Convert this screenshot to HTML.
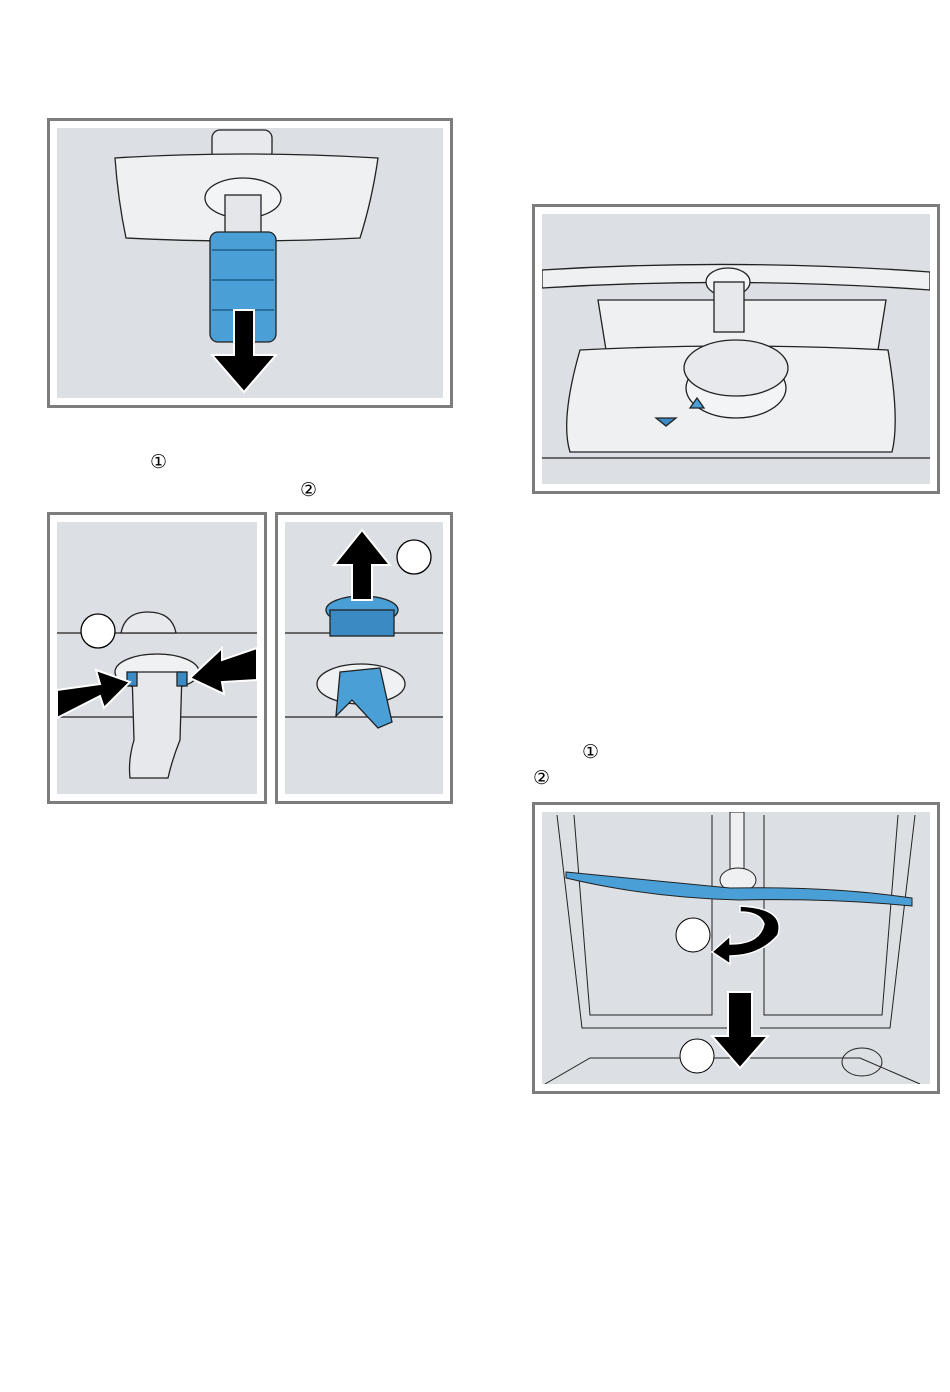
<!DOCTYPE html>
<html><head><meta charset="utf-8"><style>
html,body{margin:0;padding:0;background:#fff;width:950px;height:1392px;overflow:hidden}
svg{display:block}
text{font-family:"Liberation Sans","DejaVu Sans",sans-serif}
</style></head><body>
<svg width="950" height="1392" viewBox="0 0 950 1392" xmlns="http://www.w3.org/2000/svg">
<defs>
<clipPath id="c1"><rect x="57" y="128" width="386" height="270"/></clipPath>
<clipPath id="c2"><rect x="542" y="214" width="388" height="270"/></clipPath>
<clipPath id="c3"><rect x="57" y="522" width="200" height="272"/></clipPath>
<clipPath id="c4"><rect x="285" y="522" width="158" height="272"/></clipPath>
<clipPath id="c5"><rect x="542" y="812" width="388" height="272"/></clipPath>
</defs>
<g fill="#fff" stroke="#7d7d7d" stroke-width="3">
<rect x="48.5" y="119.5" width="403" height="287"/>
<rect x="533.5" y="205.5" width="405" height="287"/>
<rect x="48.5" y="513.5" width="217" height="289"/>
<rect x="276.5" y="513.5" width="175" height="289"/>
<rect x="533.5" y="803.5" width="405" height="289"/>
</g>
<g fill="#dcdfe4">
<rect x="57" y="128" width="386" height="270"/>
<rect x="542" y="214" width="388" height="270"/>
<rect x="57" y="522" width="200" height="272"/>
<rect x="285" y="522" width="158" height="272"/>
<rect x="542" y="812" width="388" height="272"/>
</g>

<!-- Panel 1 -->
<g clip-path="url(#c1)" stroke="#222" stroke-width="1.3">
<rect x="212" y="130" width="60" height="30" rx="8" fill="#e8e9ec"/>
<path d="M115 158 Q240 150 378 158 Q372 200 360 238 Q240 244 126 238 Q118 200 115 158Z" fill="#eef0f2"/>
<ellipse cx="243" cy="198" rx="38" ry="20" fill="#f3f4f5"/>
<rect x="225" y="195" width="36" height="40" fill="#e4e6e9"/>
<rect x="210" y="232" width="66" height="110" rx="8" fill="#4a9fd6"/>
<g stroke="#1d5e8a" stroke-width="1.5"><line x1="212" y1="250" x2="274" y2="250"/><line x1="212" y1="280" x2="274" y2="280"/><line x1="212" y1="310" x2="274" y2="310"/></g>
<path d="M234 310 L254 310 L254 355 L276 355 L244 392 L212 355 L234 355Z" fill="#000" stroke="#fff" stroke-width="2"/>
</g>

<text x="150" y="468" font-size="19" fill="#000">①</text>
<text x="300" y="496" font-size="19" fill="#000">②</text>

<!-- Panel 3 -->
<g clip-path="url(#c3)" stroke="#222" stroke-width="1.3">
<line x1="57" y1="633" x2="257" y2="633"/>
<path d="M121 633 Q125 612 148 612 Q172 612 176 633Z" fill="#e8e9ec"/>
<line x1="57" y1="717" x2="257" y2="717"/>
<ellipse cx="157" cy="672" rx="42" ry="18" fill="#f0f1f3"/>
<path d="M132 672 L182 672 L180 740 Q172 760 168 778 L130 778 Q128 760 134 740Z" fill="#e6e8eb"/>
<rect x="127" y="672" width="10" height="14" fill="#3b8ac4"/><rect x="177" y="672" width="10" height="14" fill="#3b8ac4"/>
<path d="M57 690 L100 684 L96 670 L130 682 L104 708 L100 696 L57 718Z" fill="#000" stroke="#fff" stroke-width="2"/>
<path d="M257 648 L222 660 L222 648 L190 678 L224 694 L222 682 L257 680Z" fill="#000" stroke="#fff" stroke-width="2"/>
<circle cx="98" cy="631" r="17" fill="#fff" stroke="#000"/>
</g>

<!-- Panel 4 -->
<g clip-path="url(#c4)" stroke="#222" stroke-width="1.3">
<line x1="285" y1="633" x2="443" y2="633"/>
<line x1="285" y1="717" x2="443" y2="717"/>
<ellipse cx="362" cy="610" rx="36" ry="14" fill="#4a9fd6"/>
<rect x="330" y="610" width="64" height="26" fill="#3b8ac4"/>
<path d="M352 600 L352 565 L334 565 L362 530 L390 565 L372 565 L372 600Z" fill="#000" stroke="#fff" stroke-width="2"/>
<circle cx="414" cy="557" r="17" fill="#fff" stroke="#000"/>
<ellipse cx="361" cy="684" rx="44" ry="20" fill="#f0f1f3"/>
<path d="M340 672 L380 668 L392 722 L378 728 L352 700 L336 716Z" fill="#4a9fd6"/>
</g>

<!-- Panel 2 -->
<g clip-path="url(#c2)" stroke="#222" stroke-width="1.3">
<path d="M542 270 Q736 258 930 272 L930 290 Q736 276 542 288Z" fill="#eef0f2"/>
<path d="M598 300 L886 300 L878 350 L606 350Z" fill="#eef0f2"/>
<path d="M580 350 Q736 342 888 350 Q900 420 892 452 L570 452 Q560 420 580 350Z" fill="#eef0f2"/>
<line x1="542" y1="458" x2="930" y2="458"/>
<ellipse cx="728" cy="282" rx="22" ry="14" fill="#f3f4f5"/>
<rect x="714" y="282" width="30" height="50" fill="#e6e8eb"/>
<ellipse cx="736" cy="388" rx="50" ry="30" fill="#f3f4f5"/>
<ellipse cx="736" cy="368" rx="52" ry="28" fill="#e8e9ec"/>
<path d="M656 418 L676 418 L666 426Z" fill="#3b8ac4"/>
<path d="M690 408 L704 408 L697 398Z" fill="#4a9fd6"/>
</g>

<text x="582" y="758" font-size="19" fill="#000">①</text>
<text x="533" y="784" font-size="19" fill="#000">②</text>

<!-- Panel 5 -->
<g clip-path="url(#c5)" stroke="#222" stroke-width="1">
<path d="M557 815 L582 1028 L730 1028 M915 815 L890 1028 L760 1028" fill="none"/>
<path d="M574 815 L590 1015 L712 1015 L712 815 M898 815 L882 1015 L764 1015 L764 815" fill="none"/>
<path d="M545 1084 L590 1058 L860 1058 L920 1084" fill="none"/>
<ellipse cx="862" cy="1062" rx="20" ry="14" fill="none"/>
<rect x="730" y="812" width="14" height="60" fill="#eef0f2"/>
<ellipse cx="738" cy="880" rx="18" ry="12" fill="#eef0f2"/>
<path d="M566 872 Q650 880 730 888 Q830 886 912 898 L912 906 Q830 898 740 900 Q650 898 566 878Z" fill="#4a9fd6"/>
<path d="M740 906 Q786 908 778 935 Q760 956 730 956 L730 964 L712 952 L730 936 L730 944 Q760 944 764 924 Q760 912 740 912Z" fill="#000" stroke="#fff" stroke-width="1.5"/>
<circle cx="693" cy="935" r="17" fill="#fff" stroke="#000"/>
<path d="M728 992 L752 992 L752 1036 L768 1036 L740 1068 L712 1036 L728 1036Z" fill="#000" stroke="#fff" stroke-width="2"/>
<circle cx="697" cy="1056" r="17" fill="#fff" stroke="#000"/>
</g>
</svg>
</body></html>
